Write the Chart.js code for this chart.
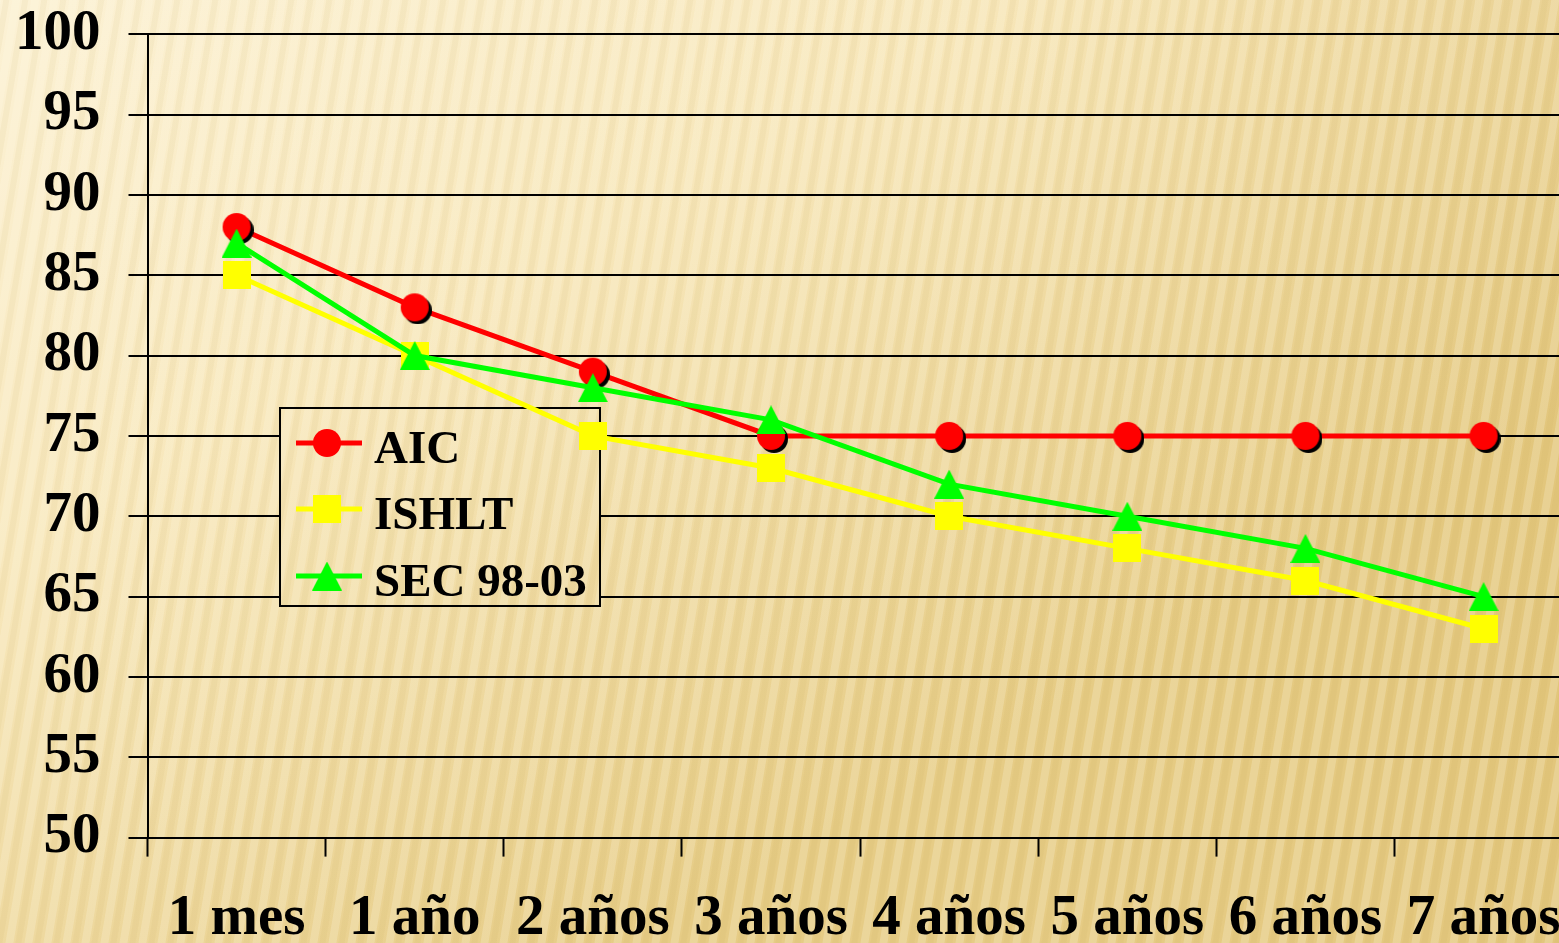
<!DOCTYPE html>
<html lang="es">
<head>
  <meta charset="UTF-8">
  <title>Supervivencia AIC / ISHLT / SEC</title>
  <script src="https://cdn.jsdelivr.net/npm/chart.js"></script>
  <style>
    html, body { margin: 0; padding: 0; overflow: hidden; background: #f5e4b4; }
    /* canvas is a bit bigger than the window: the picture is cropped on the right and bottom */
    #wrap { width: 1589px; height: 1009px; margin-top: -28px; }
  </style>
</head>
<body>
  <div id="wrap"><canvas id="chart"></canvas></div>
  <script>
    // data
    const periods = ['1 mes', '1 año', '2 años', '3 años', '4 años', '5 años', '6 años', '7 años']
    const aicValues = [88, 83, 79, 75, 75, 75, 75, 75]
    const ishltValues = [85, 80, 75, 73, 70, 68, 66, 63]
    const secValues = [87, 80, 78, 76, 72, 70, 68, 65]
    const seriesNames = ['AIC', 'ISHLT', 'SEC 98-03']
    const yMin = 50
    const yMax = 100
    const yStep = 5

    const SHIFT = 28 // canvas starts this far above the window
    const RED = '#ff0000'
    const YELLOW = '#ffff00'
    const GREEN = '#00ff00'
    const axisFont = { family: "'Liberation Serif', 'Times New Roman', serif", size: 57, weight: 'bold' }

    const makeMarker = (w, h, draw) => {
      const c = document.createElement('canvas')
      c.width = w
      c.height = h
      draw(c.getContext('2d'))
      return c
    }
    const circle = (ctx, x, y, r, color) => {
      ctx.fillStyle = color
      ctx.beginPath()
      ctx.arc(x, y, r, 0, Math.PI * 2)
      ctx.fill()
    }
    // red dot with its black drop shadow
    const circleMarker = makeMarker(34, 34, ctx => {
      circle(ctx, 20, 20, 14, '#000')
      circle(ctx, 17, 17, 14, RED)
    })
    const legendCircle = makeMarker(28, 28, ctx => circle(ctx, 14, 14, 14, RED))
    const squareMarker = makeMarker(28, 28, ctx => {
      ctx.fillStyle = YELLOW
      ctx.fillRect(0, 0, 28, 28)
    })
    const triangleMarker = makeMarker(30, 29, ctx => {
      ctx.fillStyle = GREEN
      ctx.beginPath()
      ctx.moveTo(15, 0)
      ctx.lineTo(30, 29)
      ctx.lineTo(0, 29)
      ctx.closePath()
      ctx.fill()
    })
    const legendMarkers = [legendCircle, squareMarker, triangleMarker]

    function paintBackground(ctx, w, h) {
      const g = ctx.createLinearGradient(0, 0, w * 0.35, h)
      g.addColorStop(0, '#fcf2d6')
      g.addColorStop(0.45, '#f8e8bd')
      g.addColorStop(1, '#e6cc86')
      ctx.fillStyle = g
      ctx.fillRect(0, 0, w, h)
      const side = ctx.createLinearGradient(0, 0, w, 0)
      side.addColorStop(0, 'rgba(230,200,120,0.0)')
      side.addColorStop(0.6, 'rgba(230,200,120,0.05)')
      side.addColorStop(1, 'rgba(215,180,95,0.28)')
      ctx.fillStyle = side
      ctx.fillRect(0, 0, w, h)
      // soft diagonal stripes
      const tilt = 170
      for (let x = -tilt - 40; x < w + 40; x += 19) {
        ctx.fillStyle = 'rgba(255,250,230,0.22)'
        ctx.beginPath()
        ctx.moveTo(x, h)
        ctx.lineTo(x + 8, h)
        ctx.lineTo(x + 8 + tilt, 0)
        ctx.lineTo(x + tilt, 0)
        ctx.closePath()
        ctx.fill()
        ctx.fillStyle = 'rgba(190,150,70,0.07)'
        ctx.beginPath()
        ctx.moveTo(x + 10, h)
        ctx.lineTo(x + 16, h)
        ctx.lineTo(x + 16 + tilt, 0)
        ctx.lineTo(x + 10 + tilt, 0)
        ctx.closePath()
        ctx.fill()
      }
    }

    const backgroundPlugin = {
      id: 'paperBackground',
      beforeDraw(chart) {
        const ctx = chart.ctx
        ctx.save()
        paintBackground(ctx, chart.width, chart.height)
        ctx.restore()
      }
    }

    // boxed legend with line + marker, painted under the data
    const boxLegend = {
      id: 'boxLegend',
      beforeDatasetsDraw(chart) {
        const ctx = chart.ctx
        const box = { left: 280, top: 408 + SHIFT, right: 600, bottom: 606 + SHIFT }
        ctx.save()
        ctx.beginPath()
        ctx.rect(box.left, box.top, box.right - box.left, box.bottom - box.top)
        ctx.clip()
        paintBackground(ctx, chart.width, chart.height)
        ctx.restore()

        ctx.save()
        ctx.strokeStyle = '#000'
        ctx.lineWidth = 2
        ctx.strokeRect(box.left, box.top, box.right - box.left, box.bottom - box.top)
        const rows = [443, 509, 576]
        ctx.font = "bold 47px 'Liberation Serif', 'Times New Roman', serif"
        ctx.textBaseline = 'alphabetic'
        chart.data.datasets.forEach((ds, i) => {
          const y = rows[i] + SHIFT
          ctx.strokeStyle = ds.borderColor
          ctx.lineWidth = 5
          ctx.beginPath()
          ctx.moveTo(296, y)
          ctx.lineTo(362, y)
          ctx.stroke()
          const m = legendMarkers[i]
          ctx.drawImage(m, 327 - m.width / 2, y - m.height / 2)
          ctx.fillStyle = '#000'
          ctx.fillText(ds.label, 374, y + 20)
        })
        ctx.restore()
      }
    }

    new Chart(document.getElementById('chart'), {
      type: 'line',
      data: {
        labels: periods,
        datasets: [
          {
            label: seriesNames[0],
            data: aicValues,
            borderColor: RED,
            backgroundColor: RED,
            borderWidth: 5,
            pointStyle: circleMarker,
            order: 3,
          },
          {
            label: seriesNames[1],
            data: ishltValues,
            borderColor: YELLOW,
            backgroundColor: YELLOW,
            borderWidth: 5,
            pointStyle: squareMarker,
            order: 2,
          },
          {
            label: seriesNames[2],
            data: secValues,
            borderColor: GREEN,
            backgroundColor: GREEN,
            borderWidth: 5,
            pointStyle: triangleMarker,
            order: 1,
          },
        ],
      },
      options: {
        responsive: true,
        maintainAspectRatio: false,
        animation: false,
        layout: { padding: { left: -13, right: 0, top: 0, bottom: 0 } },
        plugins: {
          legend: { display: false },
          tooltip: { enabled: false },
        },
        scales: {
          x: {
            offset: true,
            grid: {
              offset: true,
              drawOnChartArea: false,
              drawTicks: true,
              tickLength: 19,
              tickWidth: 2,
              tickColor: '#000',
            },
            border: { display: true, color: '#000', width: 2 },
            ticks: {
              color: '#000',
              font: axisFont,
              padding: 28,
              maxRotation: 0,
              autoSkip: false,
            },
          },
          y: {
            min: yMin,
            max: yMax,
            ticks: { stepSize: yStep, color: '#000', font: axisFont, padding: 28 },
            grid: { color: '#000', lineWidth: 2, tickLength: 19, tickColor: '#000' },
            border: { display: true, color: '#000', width: 2 },
          },
        },
      },
      plugins: [backgroundPlugin, boxLegend],
    })
  </script>
</body>
</html>
